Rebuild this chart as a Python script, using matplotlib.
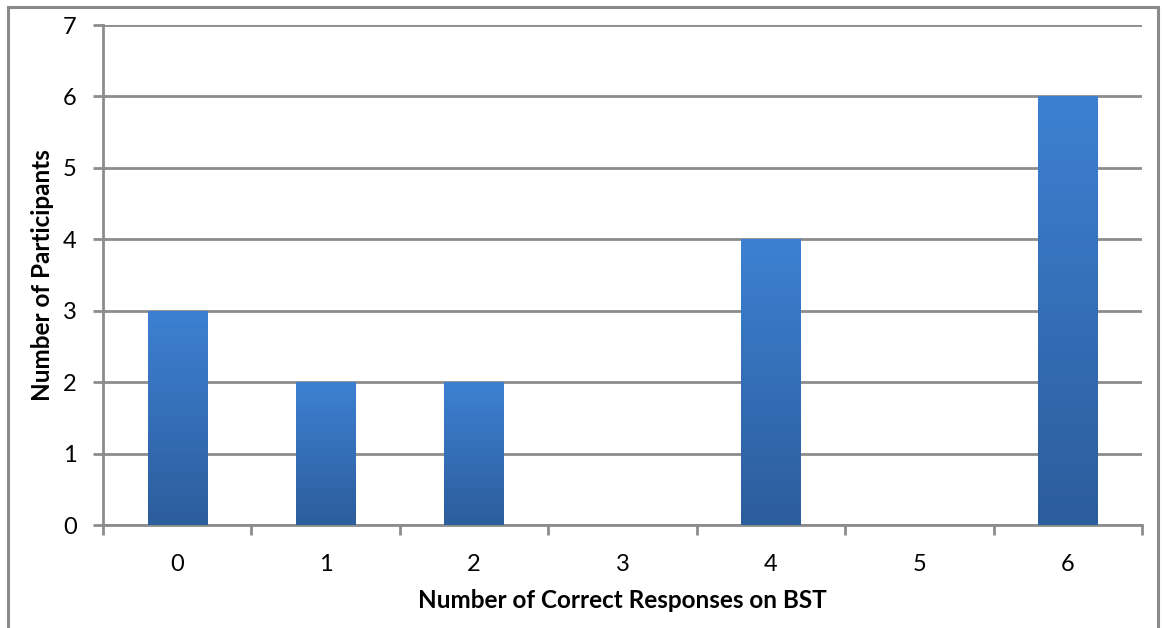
import numpy as np
import matplotlib
matplotlib.use('Agg')
import matplotlib.pyplot as plt
from matplotlib.colors import LinearSegmentedColormap
from matplotlib.patches import Rectangle

categories = ['0', '1', '2', '3', '4', '5', '6']
participants = [3, 2, 2, 0, 4, 0, 6]
y_ticks = [0, 1, 2, 3, 4, 5, 6, 7]

GRID = '#8c8c8c'
TOP, BOTTOM = '#3d80d2', '#2c5d9c'
plt.rcParams['font.family'] = ['Lato', 'DejaVu Sans']

fig = plt.figure(figsize=(11.62, 6.28), dpi=100, facecolor='white')
ax = fig.add_axes([103 / 1162, 1 - 525 / 628, (1142 - 103) / 1162, (525 - 25) / 628])

# outer frame of the chart area
fig.add_artist(Rectangle((8 / 1162, -0.02), (1158 - 8) / 1162, 1.02 - 7 / 628,
                         transform=fig.transFigure, fill=False,
                         edgecolor='#8a8a8a', lw=2.2))

x = np.arange(len(categories))
bars = ax.bar(x, participants, width=0.4, color='none', edgecolor='none', zorder=3)

# vertical gradient fill, dark at the base, lighter at the top
cmap = LinearSegmentedColormap.from_list('bst', [BOTTOM, TOP])
grad = np.linspace(0, 1, 256).reshape(-1, 1)
for b in bars:
    if b.get_height() <= 0:
        continue
    x0, w, h = b.get_x(), b.get_width(), b.get_height()
    im = ax.imshow(grad, cmap=cmap, origin='lower', aspect='auto',
                   extent=(x0, x0 + w, 0, h), zorder=3)
    im.set_clip_path(b)

ax.set_xlim(-0.5, len(categories) - 0.5)
ax.set_ylim(0, 7)
ax.set_yticks(y_ticks)
ax.set_xticks(x)
ax.set_xticklabels(categories)
ax.set_xticks(np.arange(-0.5, len(categories)), minor=True)
ax.yaxis.grid(True, color=GRID, lw=2.0, zorder=1)
ax.set_axisbelow(True)

for side in ('top', 'right'):
    ax.spines[side].set_visible(False)
for side in ('left', 'bottom'):
    ax.spines[side].set_color(GRID)
    ax.spines[side].set_linewidth(2.0)

ax.tick_params(axis='x', which='major', length=0, pad=21, labelsize=17)
ax.tick_params(axis='x', which='minor', length=7, width=2.0, color=GRID)
ax.tick_params(axis='y', length=7, width=2.0, color=GRID, pad=12, labelsize=17)

ax.set_xlabel('Number of Correct Responses on BST', fontsize=17.5, fontweight='bold',
              labelpad=10)
ax.set_ylabel('Number of Participants', fontsize=17.5, fontweight='bold', labelpad=6)

fig.savefig('out.png', dpi=100, facecolor='white')
